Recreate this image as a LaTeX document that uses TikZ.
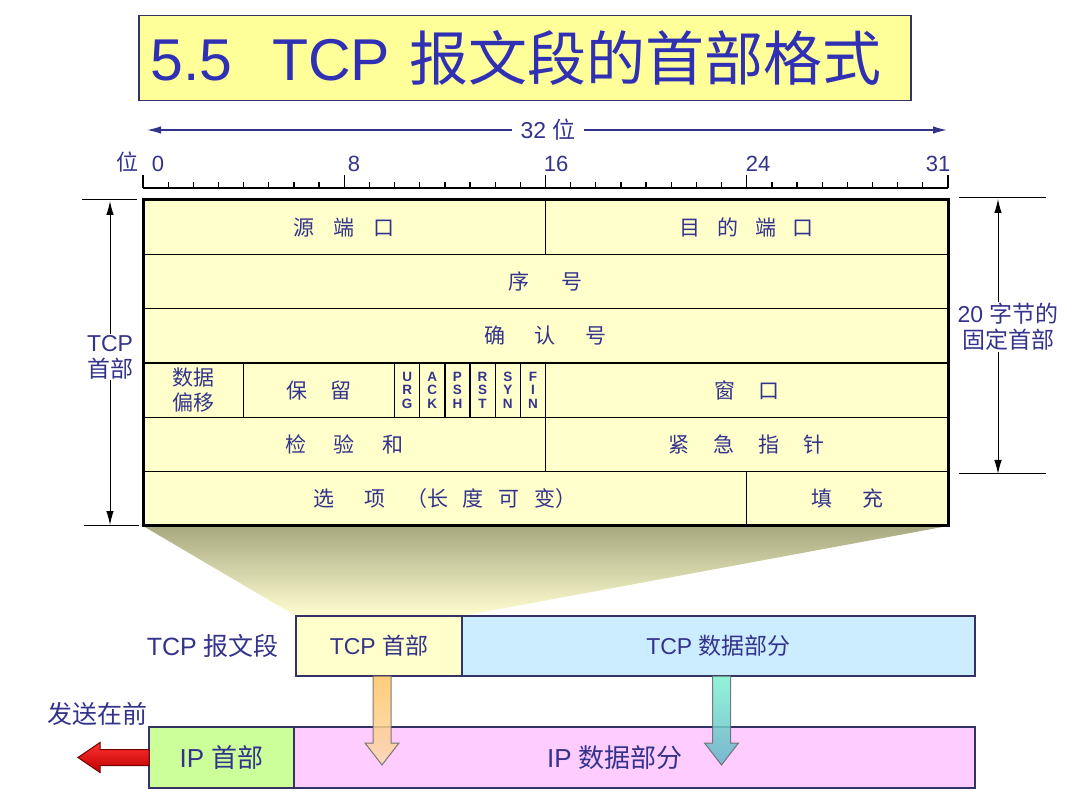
\documentclass[tikz,border=0pt]{standalone}
\usepackage{fontspec}
\setmainfont{Liberation Sans}
\newfontfamily\cjk{Noto Sans CJK SC}
\usetikzlibrary{calc,positioning,backgrounds,arrows.meta}
\newcommand{\zh}[1]{{\cjk #1}}
\newcommand{\gp}[1][0.9em]{\hspace{#1}}
\newcommand{\bw}{25.156}
\newcommand{\rh}{54.33}
\definecolor{navy}{RGB}{51,51,140}
\definecolor{ttlblue}{RGB}{48,48,180}
\definecolor{ttlfill}{RGB}{255,255,153}
\definecolor{celly}{RGB}{255,255,204}
\definecolor{edge}{RGB}{51,51,102}
\definecolor{tcpblue}{RGB}{204,236,255}
\definecolor{ipgreen}{RGB}{204,255,153}
\definecolor{ippink}{RGB}{255,204,255}
\definecolor{funtop}{RGB}{168,168,128}
\definecolor{funbot}{RGB}{255,255,210}
\definecolor{orgtop}{RGB}{255,196,100}
\definecolor{orgbot}{RGB}{250,218,175}
\definecolor{teltop}{RGB}{128,240,210}
\definecolor{telbot}{RGB}{100,180,200}
\definecolor{redtop}{RGB}{255,50,50}
\definecolor{redbot}{RGB}{190,0,0}

\begin{document}
\begin{tikzpicture}[x=1pt,y=-1pt,
        >={Latex[length=14pt,width=7.5pt]},
        cell/.style={draw,line width=1.3pt,fill=celly,anchor=north west,inner sep=0pt,outer sep=0pt,
                     minimum height=\rh pt,text=navy,align=center,font=\fontsize{21}{25}\selectfont},
        flag/.style={font=\fontsize{13.5}{13.5}\selectfont\bfseries},
        seg/.style={draw=edge,line width=1.5pt,anchor=north west,inner sep=0pt,outer sep=0pt,
                    minimum height=60pt,text=navy,font=\fontsize{23}{26}\selectfont},
        lbl/.style={text=navy,align=center,inner sep=1pt,font=\fontsize{23}{26}\selectfont},
        dim/.style={line width=1pt},
        blk/.style={line width=1pt,opacity=0.85}]

    \useasboundingbox (0,0) rectangle (1080,810);

    % title
    \node[draw=edge,line width=1.5pt,fill=ttlfill,anchor=north west,minimum height=85pt,
          text width=748pt,inner xsep=12pt,inner ysep=0pt,align=left,text=ttlblue,
          font=\fontsize{59}{60}\selectfont] (ttl) at (138,15) {5.5\ \ TCP \zh{报文段的首部格式}};

    % 32 bits
    \node[lbl,inner xsep=8pt] (bits) at (548,130) {32 \zh{位}};
    \coordinate (bl) at (147,130);
    \coordinate (br) at (947,130);
    \draw[->,navy,line width=1.3pt] (bits) -- (bl);
    \draw[->,navy,line width=1.3pt] (bits) -- (br);

    % ruler
    \draw[line width=1.5pt] (143,188) -- (948,188);
    \foreach \i in {0,...,32}{
        \pgfmathsetmacro\tk{mod(\i,8)==0 ? 13 : 6}
        \draw[line width=1.3pt] (143+\i*\bw,188) -- ++(0,-\tk);
    }
    \node[lbl,anchor=base,font=\fontsize{22}{24}\selectfont] (runit) at (127,171) {\zh{位}};
    \foreach \x/\l in {158/0,354/8,556/16,758/24,938/31}
        \node[lbl,anchor=base,font=\fontsize{22}{24}\selectfont] (r\l) at (\x,172) {\l};

    % header fields
    \node[cell,minimum width={16*\bw*1pt}] (src) at (143,200) {\zh{源\gp 端\gp 口}};
    \node[cell,minimum width={16*\bw*1pt}] (dst) at (src.north east) {\zh{目\gp[0.8em]的\gp[0.8em]端\gp[0.8em]口}};
    \node[cell,minimum width={32*\bw*1pt}] (seq) at (src.south west) {\zh{序\gp[1.5em]号}};
    \node[cell,minimum width={32*\bw*1pt}] (ackno) at (seq.south west) {\zh{确\gp[1.4em]认\gp[1.4em]号}};
    \node[cell,minimum width={4*\bw*1pt}] (doff) at (ackno.south west) {\zh{数据}\\\zh{偏移}};
    \node[cell,minimum width={6*\bw*1pt}] (rsv) at (doff.north east) {\zh{保\gp[1.1em]留}};
    \foreach \n/\lt [count=\i from 0] in {urg/U\\R\\G,ack/A\\C\\K,psh/P\\S\\H,rst/R\\S\\T,syn/S\\Y\\N,fin/F\\I\\N}
        \node[cell,flag,minimum width={\bw*1pt}] (\n) at ($(rsv.north east)+(\i*\bw,0)$) {\lt};
    \node[cell,minimum width={16*\bw*1pt}] (win) at (fin.north east) {\zh{窗\gp[1.1em]口}};
    \node[cell,minimum width={16*\bw*1pt}] (chk) at (doff.south west) {\zh{检\gp[1.3em]验\gp[1.3em]和}};
    \node[cell,minimum width={16*\bw*1pt}] (urgp) at (chk.north east) {\zh{紧\gp[1.15em]急\gp[1.15em]指\gp[1.15em]针}};
    \node[cell,minimum width={24*\bw*1pt}] (opt) at (chk.south west) {\zh{选\gp[1.4em]项\gp[1em]（长\gp[0.7em]度\gp[0.7em]可\gp[0.7em]变）}};
    \node[cell,minimum width={8*\bw*1pt}] (pad) at (opt.north east) {\zh{填\gp[1.4em]充}};
    \draw[line width=3pt] (src.north west) rectangle (pad.south east);

    % header length, left
    \node[lbl] (hdlen) at (110,357) {TCP\\\zh{首部}};
    \coordinate (lt) at (110,201);
    \coordinate (lb) at (110,525);
    \draw[dim] ($(src.north west)+(-6,0)$) -- ++(-55,0);
    \draw[dim] ($(opt.south west)+(-4,0)$) -- ++(-55,0);
    \draw[dim,->] (hdlen.north -| lt) -- (lt);
    \draw[dim,->] (hdlen.south -| lb) -- (lb);

    % fixed part, right
    \node[lbl] (fixlen) at (1008,327) {20 \zh{字节的}\\\zh{固定首部}};
    \coordinate (rt) at (998,199);
    \coordinate (rb) at (998,474);
    \draw[dim] (959,198) -- (1046,198);
    \draw[dim] (959,474) -- (1046,474);
    \draw[dim,->] (fixlen.north -| rt) -- (rt);
    \draw[dim,->] (fixlen.south -| rb) -- (rb);

    % segment and datagram
    \node[seg,fill=celly,minimum width=166pt] (tcph) at (296,616) {TCP \zh{首部}};
    \node[seg,fill=tcpblue,minimum width=513pt] (tcpd) at (tcph.north east) {TCP \zh{数据部分}};
    \node[lbl,left=16pt of tcph,font=\fontsize{25}{28}\selectfont] (tcpseg) {TCP \zh{报文段}};
    \node[seg,fill=ipgreen,minimum width=145pt,minimum height=61pt,font=\fontsize{26}{28}\selectfont] (iph) at (149,727) {IP \zh{首部}};
    \node[seg,fill=ippink,minimum width=681pt,minimum height=61pt,font=\fontsize{26}{28}\selectfont] (ipd) at (iph.north east) {IP \zh{数据部分}\hspace*{39pt}};
    \node[lbl,anchor=south east,font=\fontsize{25}{28}\selectfont] (first) at (iph.north west) {\zh{发送在前}};

    % funnel
    \begin{scope}[on background layer]
        \shade[top color=funtop,bottom color=funbot] (opt.south west) -- (pad.south east) -- (tcph.north east) -- (tcph.north west) -- cycle;
    \end{scope}

    % block arrows
    \shadedraw[blk,draw=gray!80!black,top color=orgtop,bottom color=orgbot]
        ($(tcph.south)+(-6,0)$) -- ++(0,67) -- ++(-8,0) -- ++(17,22) -- ++(17,-22) -- ++(-8,0) -- ++(0,-67) -- cycle;
    \shadedraw[blk,draw=gray!80!black,top color=teltop,bottom color=telbot]
        ($(tcpd.south)+(-6,0)$) -- ++(0,67) -- ++(-8,0) -- ++(17,22) -- ++(17,-22) -- ++(-8,0) -- ++(0,-67) -- cycle;
    \shadedraw[line width=1pt,draw=redbot!60!black,top color=redtop,bottom color=redbot]
        ($(iph.west)+(0,-8)$) -- ++(-49,0) -- ++(0,-7) -- ++(-22,15) -- ++(22,15) -- ++(0,-7) -- ++(49,0) -- cycle;

\end{tikzpicture}
\end{document}
